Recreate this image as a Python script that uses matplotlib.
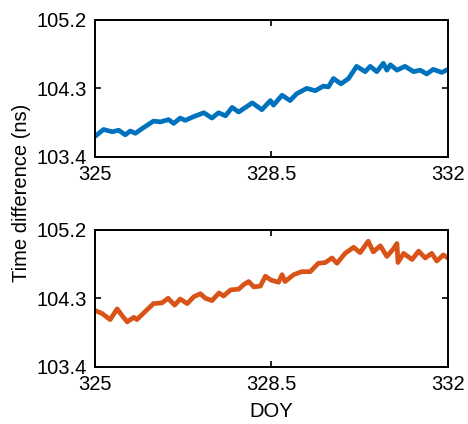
import matplotlib
matplotlib.use("Agg")
import matplotlib.pyplot as plt

plt.rcParams['font.family'] = ['Liberation Sans', 'DejaVu Sans']

doy_top = [325.0, 325.17, 325.34, 325.47, 325.60, 325.70, 325.80, 325.93, 326.16, 326.30,
           326.46, 326.56, 326.69, 326.79, 326.96, 327.16, 327.32, 327.45, 327.59, 327.72,
           327.85, 328.12, 328.31, 328.48, 328.54, 328.71, 328.87, 329.00, 329.20, 329.37,
           329.53, 329.63, 329.73, 329.88, 330.03, 330.19, 330.36, 330.46, 330.59, 330.72,
           330.79, 330.86, 330.99, 331.15, 331.32, 331.45, 331.58, 331.71, 331.88, 332.0]
val_top = [103.67, 103.76, 103.73, 103.75, 103.69, 103.74, 103.71, 103.77, 103.87, 103.86,
           103.89, 103.84, 103.91, 103.88, 103.93, 103.98, 103.91, 103.98, 103.94, 104.05,
           103.99, 104.11, 104.02, 104.14, 104.08, 104.21, 104.14, 104.23, 104.30, 104.27,
           104.33, 104.32, 104.43, 104.36, 104.43, 104.59, 104.52, 104.59, 104.52, 104.63,
           104.54, 104.61, 104.54, 104.59, 104.52, 104.54, 104.49, 104.55, 104.51, 104.55]

doy_bot = [325.0, 325.14, 325.30, 325.44, 325.54, 325.64, 325.77, 325.83, 325.97, 326.16,
           326.33, 326.45, 326.58, 326.69, 326.83, 326.96, 327.09, 327.19, 327.32, 327.46,
           327.55, 327.69, 327.85, 327.95, 328.05, 328.15, 328.28, 328.38, 328.49, 328.64,
           328.71, 328.77, 328.94, 329.10, 329.27, 329.43, 329.57, 329.70, 329.80, 329.96,
           330.13, 330.26, 330.42, 330.52, 330.66, 330.79, 330.92, 330.99, 331.01, 331.12,
           331.29, 331.42, 331.55, 331.68, 331.78, 331.91, 332.0]
val_bot = [104.14, 104.10, 104.02, 104.16, 104.07, 103.99, 104.05, 104.02, 104.11, 104.23,
           104.24, 104.30, 104.21, 104.29, 104.23, 104.32, 104.36, 104.30, 104.27, 104.37,
           104.33, 104.41, 104.42, 104.48, 104.52, 104.45, 104.46, 104.59, 104.54, 104.51,
           104.61, 104.52, 104.61, 104.65, 104.65, 104.76, 104.77, 104.83, 104.76, 104.89,
           104.97, 104.90, 105.05, 104.91, 104.99, 104.85, 104.95, 105.02, 104.77, 104.89,
           104.81, 104.92, 104.83, 104.89, 104.79, 104.87, 104.83]

xticks = [325, 328.5, 332]
xtick_labels = ['325', '328.5', '332']
yticks = [103.4, 104.3, 105.2]
ytick_labels = ['103.4', '104.3', '105.2']

fig = plt.figure(figsize=(4.68, 4.24), dpi=100)
ax1 = fig.add_axes([0.203, 0.630, 0.754, 0.323])
ax2 = fig.add_axes([0.203, 0.135, 0.754, 0.323])

for ax, x, y, c in [(ax1, doy_top, val_top, '#0072BD'), (ax2, doy_bot, val_bot, '#D95319')]:
    ax.plot(x, y, color=c, lw=3.4, solid_joinstyle='round')
    ax.set_xlim(325, 332)
    ax.set_ylim(103.4, 105.2)
    ax.set_xticks(xticks)
    ax.set_xticklabels(xtick_labels)
    ax.set_yticks(yticks)
    ax.set_yticklabels(ytick_labels)
    ax.tick_params(direction='in', top=True, right=True, labelsize=14.5, length=4, width=1.2, pad=6)
    for s in ax.spines.values():
        s.set_linewidth(1.4)

ax2.set_xlabel('DOY', fontsize=14.5, labelpad=6)
fig.text(0.047, 0.545, 'Time difference (ns)', rotation=90, va='center', ha='center', fontsize=14.5)

fig.savefig('out.png', dpi=100)
